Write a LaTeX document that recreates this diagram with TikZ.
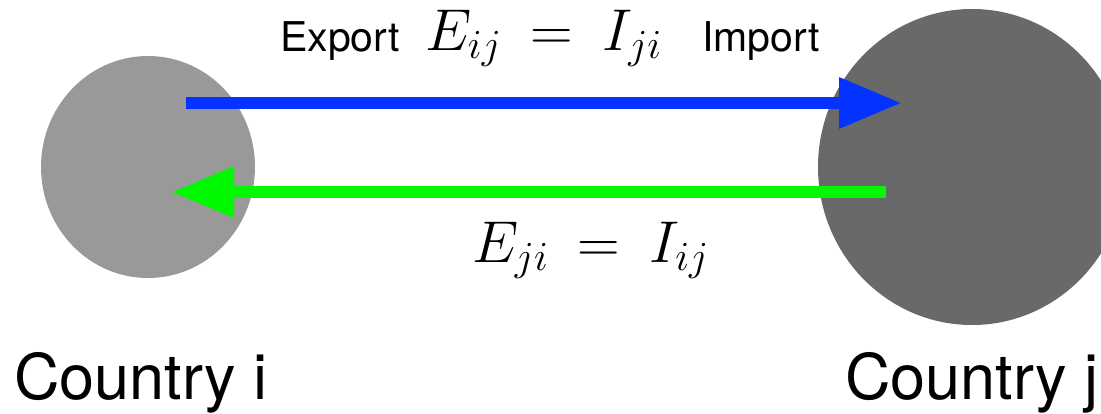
\RequirePackage{fix-cm}
\documentclass[tikz,border=0pt]{standalone}
\usepackage{fontspec}
\setmainfont{TeX Gyre Heros}
\usetikzlibrary{shapes.geometric,arrows.meta}
\definecolor{smallgray}{HTML}{999999}
\definecolor{biggray}{HTML}{696969}
\definecolor{expblue}{HTML}{0433FF}
\definecolor{impgreen}{HTML}{00F900}
\tikzset{
  country/.style={ellipse, inner sep=0pt, draw=none},
  flow/.style={line width=12.5pt, -{Triangle[length=63pt,width=48pt]}},
  label/.style={inner sep=0pt, anchor=base west, font=\fontsize{63}{70}\selectfont},
  small/.style={inner sep=0pt, anchor=base west, font=\fontsize{41}{46}\selectfont},
  mathlbl/.style={inner sep=0pt, anchor=base west, font=\fontsize{59}{64}\selectfont}
}
\newcommand{\releq}{\mskip4mu=\mskip4mu}
\begin{document}
\begin{tikzpicture}[x=1pt,y=-1pt]
\useasboundingbox (0,0) rectangle (1101,413);
\node[country, fill=smallgray, minimum width=214pt, minimum height=222pt] (ci) at (148,167) {};
\node[country, fill=biggray, minimum width=308pt, minimum height=316pt] (cj) at (972,167) {};
\coordinate (bs) at (186,103);
\coordinate (be) at (902,103);
\coordinate (gs) at (886,192);
\coordinate (ge) at (171,192);
\draw[flow, expblue] (bs) -- (be);
\draw[flow, impgreen] (gs) -- (ge);
\node[small] (exp) at (280,51) {Export};
\node[mathlbl] (top) at (425,50) {$E_{ij} \releq I_{ji}$};
\node[small] (imp) at (702,51) {Import};
\node[mathlbl] (bot) at (472,262) {$E_{ji} \releq I_{ij}$};
\node[label] (li) at (14,399) {Country i};
\node[label] (lj) at (845,399) {Country j};
\end{tikzpicture}
\end{document}
